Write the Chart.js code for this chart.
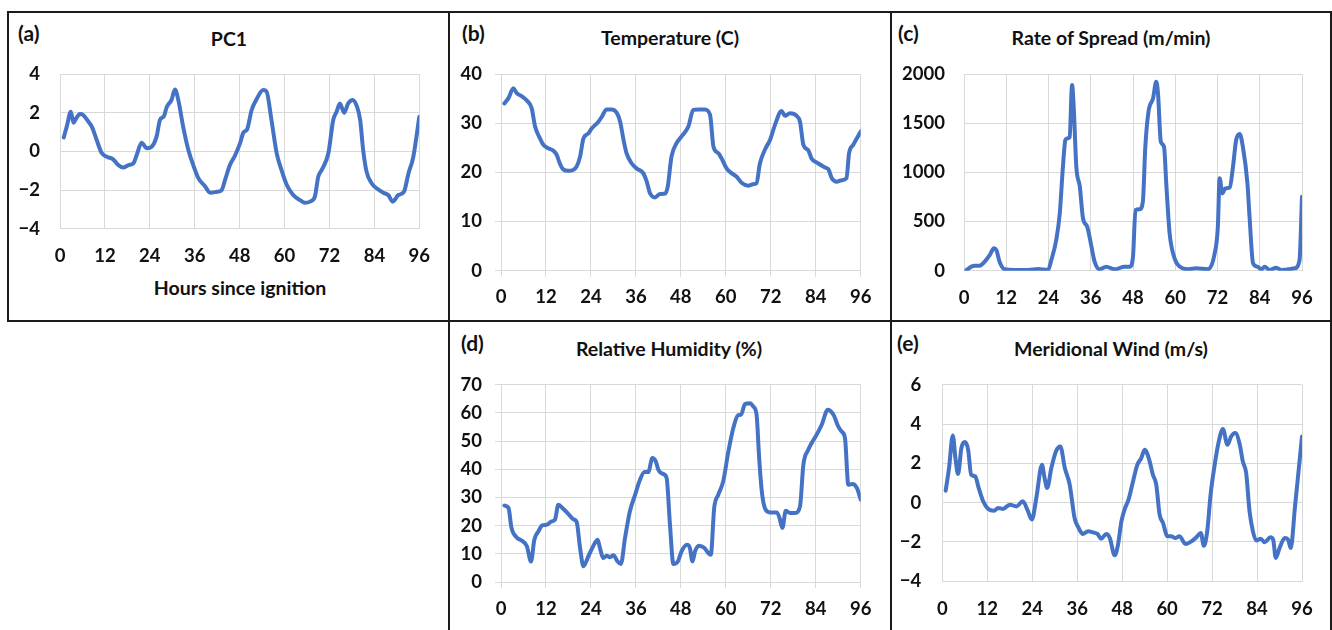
<!DOCTYPE html>
<html>
<head>
<meta charset="utf-8">
<script src="https://cdn.jsdelivr.net/npm/chart.js@4.4.1/dist/chart.umd.min.js"></script>
<style>
    html, body { margin: 0; padding: 0; background: #fff; }
    body { width: 1332px; height: 630px; position: relative; overflow: hidden; font-family: Lato, "Open Sans", sans-serif; color: #111; }
    .rule { position: absolute; background: #1b1b1b; }
    canvas { position: absolute; }
    .title { position: absolute; font-weight: bold; font-size: 19.5px; white-space: nowrap; transform: translate(-50%, -50%); }
    .tag { position: absolute; font-weight: bold; font-size: 21px; white-space: nowrap; transform: translateY(-50%); }
</style>
</head>
<body>
<!-- panel frames -->
<div class="rule" style="left:7px;top:11px;width:1325px;height:2px"></div>
<div class="rule" style="left:7px;top:320px;width:1325px;height:2px"></div>
<div class="rule" style="left:7px;top:11px;width:2px;height:311px"></div>
<div class="rule" style="left:448px;top:11px;width:2px;height:619px"></div>
<div class="rule" style="left:890px;top:11px;width:2px;height:619px"></div>
<div class="rule" style="left:1330px;top:11px;width:2px;height:619px"></div>

<div class="tag" style="left:18px;top:32px">(a)</div>
<div class="tag" style="left:462px;top:32px">(b)</div>
<div class="tag" style="left:898px;top:32px">(c)</div>
<div class="tag" style="left:461px;top:342px">(d)</div>
<div class="tag" style="left:897px;top:342px">(e)</div>

<div class="title" style="left:229px;top:38px">PC1</div>
<div class="title" style="left:670px;top:37px">Temperature (C)</div>
<div class="title" style="left:1111px;top:37px">Rate of Spread (m/min)</div>
<div class="title" style="left:669px;top:348px">Relative Humidity (%)</div>
<div class="title" style="left:1111px;top:348px">Meridional Wind (m/s)</div>
<div class="title" style="left:240px;top:287px">Hours since ignition</div>

<script>
// shared x ticks
const hourTicks = [0, 12, 24, 36, 48, 60, 72, 84, 96];

// (a) PC1
const hoursA = [1, 1.8, 2.9, 3.6, 4.3, 5.3, 6.2, 7.6, 8.5, 9.8, 11.1, 12.5, 14.2, 15.6, 16.9, 18.3, 19.6, 20.5, 21.8, 23.2,
    24.5, 25.8, 26.7, 27.8, 28.5, 29.8, 30.7, 31.6, 32.9, 34.3, 35.6, 37, 38.7, 40.1, 41.9, 43.2, 44.1, 45.4, 46.7, 48.1,
    49, 50, 51.2, 52.5, 54.3, 55.2, 56.5, 57.9, 59.2, 60.6, 62.3, 64.1, 65.5, 66.8, 68.1, 69, 69.9, 71.7, 73, 73.9,
    74.8, 75.9, 77, 78.2, 79.3, 80.2, 81, 81.9, 83.3, 84.6, 86.4, 87.7, 88.9, 90.4, 91.9, 93.1, 94.4, 96];
const pc1 = [0.72, 1.28, 2.05, 1.48, 1.7, 1.93, 1.88, 1.53, 1.28, 0.59, -0.07, -0.28, -0.41, -0.71, -0.83, -0.71, -0.62, -0.19, 0.45, 0.16,
    0.24, 0.76, 1.62, 1.83, 2.28, 2.66, 3.2, 2.66, 1.28, 0.07, -0.71, -1.4, -1.79, -2.14, -2.09, -2.0, -1.48, -0.71, -0.24, 0.41,
    0.97, 1.14, 2.14, 2.69, 3.17, 3.09, 1.62, -0.1, -0.97, -1.74, -2.26, -2.52, -2.66, -2.6, -2.34, -1.31, -0.97, -0.1, 1.62, 2.05,
    2.48, 2.0, 2.48, 2.66, 2.34, 1.62, 0.07, -1.05, -1.66, -1.91, -2.14, -2.26, -2.6, -2.26, -2.09, -1.14, -0.28, 1.79];
const pc1Ticks = [-4, -2, 0, 2, 4];

// (b) Temperature
const hoursB = [0.9, 2, 3.3, 4.2, 5.5, 6.9, 8.2, 9.1, 10.4, 11.3, 12.6, 14, 14.9, 15.7, 16.6, 18, 19.3, 20.2, 21.1, 22,
    23.3, 24.2, 26, 26.9, 28.2, 29.5, 30.9, 31.8, 32.7, 33.5, 34.9, 36.2, 38, 38.9, 39.8, 41.1, 42.4, 43.8, 44.5, 45.5,
    46.9, 48.2, 50, 51.3, 52.7, 54.4, 55.8, 56.7, 58, 58.9, 60.2, 61.6, 62.9, 64.2, 66, 67.3, 68.2, 69.1, 70.5, 71.8,
    73.1, 74.9, 75.8, 77.1, 78.9, 79.8, 80.7, 82, 82.9, 84.7, 86.5, 87.4, 88.3, 89.6, 90.9, 92.2, 92.9, 94, 96];
const temperature = [34.0, 35.1, 37.1, 36.1, 35.5, 34.6, 33.0, 29.3, 26.9, 25.6, 24.9, 24.4, 23.5, 21.8, 20.6, 20.3, 20.5, 21.2, 23.2, 26.9,
    27.9, 28.9, 30.3, 31.3, 32.8, 32.8, 32.1, 30.3, 26.6, 23.9, 21.8, 20.8, 19.8, 18.1, 15.7, 14.9, 15.6, 15.7, 17.1, 23.2,
    26.0, 27.3, 29.3, 32.7, 32.8, 32.8, 31.7, 25.2, 23.9, 22.8, 20.8, 19.8, 19.1, 17.9, 17.3, 17.6, 17.8, 21.8, 24.7, 26.6,
    29.6, 32.5, 31.5, 32.0, 31.5, 30.3, 25.6, 24.5, 22.8, 21.8, 21.0, 20.6, 18.8, 18.1, 18.4, 18.8, 23.9, 25.6, 28.3];
const tempTicks = [0, 10, 20, 30, 40];

// (c) Rate of spread
const hoursC = [0.7, 2.1, 3, 4.4, 5.9, 7.3, 8.5, 9.2, 10.1, 11.6, 14.4, 18.2, 21, 23.9, 24.8, 26.2, 27.2, 28.1, 28.8, 29.5,
    30, 30.7, 31.2, 31.9, 32.9, 33.8, 35, 36.2, 37.1, 38.5, 40.4, 42.8, 45.6, 47.1, 48, 48.7, 49.9, 50.8, 51.5, 52.4,
    53.7, 54.6, 55.1, 55.9, 56.8, 57.5, 58.4, 59.8, 61.3, 63.6, 66, 69.3, 71.2, 72.1, 72.6, 73.4, 74.2, 75.5, 76.4, 77.3,
    78.3, 79.2, 80.5, 81.1, 82.1, 83.3, 84.5, 85.4, 86.8, 88.7, 90.1, 93.9, 95.3, 96];
const spread = [7, 41, 51, 51, 92, 159, 227, 210, 92, 14, 7, 7, 17, 7, 108, 312, 583, 1058, 1329, 1346,
    1356, 1888, 1634, 1058, 854, 532, 447, 244, 92, 14, 41, 14, 41, 41, 142, 617, 624, 702, 1261, 1617,
    1753, 1922, 1803, 1312, 1261, 854, 380, 125, 41, 14, 24, 14, 176, 447, 939, 786, 837, 848, 1058, 1329,
    1390, 1261, 888, 549, 75, 41, 14, 41, 7, 31, 7, 24, 108, 753];
const spreadTicks = [0, 500, 1000, 1500, 2000];

// (d) Relative humidity
const hoursD = [0.9, 2, 2.8, 4.2, 5.5, 6.9, 8, 8.9, 10, 11, 12.2, 13.5, 14.4, 15.3, 16.6, 18, 19.3, 20.2, 21.1, 22,
    23.3, 24.6, 25.8, 26.4, 27.3, 28.2, 29.1, 30, 31.1, 32, 33.1, 34.4, 35.8, 37.1, 38.3, 39.3, 40.4, 41.3, 42, 43.3,
    44.2, 45.1, 46, 47.2, 48.2, 49.6, 50.4, 51.1, 51.8, 52.8, 54.3, 55.3, 56, 56.9, 58, 59.3, 60.7, 62, 63.2, 64.1,
    65.1, 66.5, 67.3, 68.2, 68.9, 69.6, 70.5, 71.8, 73.6, 74.3, 75.1, 76, 77.1, 78.5, 79.8, 80.7, 82, 82.9, 84, 85.6,
    87.2, 88.7, 90, 90.9, 91.8, 92.7, 93.8, 95, 96];
const humidity = [27.1, 26.3, 19.2, 15.8, 14.7, 12.7, 7.3, 15.0, 18.0, 20.1, 20.3, 21.5, 22.1, 27.4, 26.0, 24.1, 22.3, 21.3, 12.1, 5.6,
    9.1, 12.7, 15.0, 12.1, 8.5, 9.3, 8.8, 9.5, 7.3, 6.4, 15.6, 25.1, 31.0, 36.3, 39.0, 39.0, 44.0, 42.8, 39.8, 38.3,
    36.9, 20.3, 6.4, 7.3, 10.9, 13.2, 12.1, 7.3, 10.9, 12.9, 12.1, 10.3, 9.7, 26.3, 31.0, 35.7, 46.4, 54.6, 59.1, 59.4,
    63.1, 63.4, 62.3, 59.4, 44.0, 32.2, 26.0, 24.7, 24.7, 22.9, 19.2, 25.3, 24.5, 24.5, 26.8, 41.6, 46.9, 49.3, 51.7, 55.8,
    61.1, 59.4, 55.2, 53.4, 51.1, 34.5, 34.8, 33.3, 29.2];
const humidityTicks = [0, 10, 20, 30, 40, 50, 60, 70];

// (e) Meridional wind
const hoursE = [0.9, 1.8, 2.8, 3.5, 4.2, 5.1, 6, 6.9, 7.7, 8.8, 9.7, 10.9, 12.2, 13.8, 14.9, 16.2, 18, 19.8, 21.5, 22.7,
    23.9, 25.1, 26.6, 27.3, 28, 29.1, 30.4, 31.5, 32.7, 34, 35.3, 36.4, 37.5, 38.9, 40.2, 41.4, 42.4, 43.8, 44.7, 46,
    46.9, 47.8, 48.8, 49.7, 50.9, 52, 53.1, 54, 55.1, 56.2, 57.1, 58, 58.9, 60.1, 61.1, 62.2, 63.3, 64.9, 66.5, 67.8,
    69, 69.8, 70.7, 71.6, 72.7, 73.8, 74.9, 76.1, 77.1, 78.2, 79.4, 80.2, 81.1, 82, 82.9, 83.8, 85, 86, 87.6, 88.3,
    89, 90, 91.4, 92.3, 93, 94.1, 96];
const wind = [0.61, 1.76, 3.42, 2.27, 1.46, 2.78, 3.08, 2.69, 1.42, 1.34, 0.75, 0.07, -0.31, -0.41, -0.27, -0.32, -0.1, -0.19, 0.07, -0.36,
    -0.86, 0.24, 1.93, 1.25, 0.75, 1.76, 2.64, 2.86, 1.76, 0.92, -0.78, -1.29, -1.59, -1.46, -1.51, -1.59, -1.83, -1.59, -1.8, -2.68,
    -2.14, -0.95, -0.27, 0.15, 1.08, 1.9, 2.27, 2.69, 2.27, 1.42, 0.92, -0.61, -1.03, -1.71, -1.71, -1.8, -1.71, -2.1, -1.97, -1.76,
    -1.54, -2.19, -1.46, 0.41, 1.93, 3.12, 3.75, 2.95, 3.37, 3.54, 2.95, 2.1, 1.51, -0.44, -1.46, -1.93, -1.83, -2.02, -1.76, -1.88,
    -2.81, -2.31, -1.8, -1.88, -2.31, -0.27, 3.37];
const windTicks = [-4, -2, 0, 2, 4, 6];

Chart.defaults.font.family = 'Lato, "Open Sans", sans-serif';
Chart.defaults.font.weight = 'bold';
Chart.defaults.font.size = 18.5;
Chart.defaults.color = '#111';

const gridColor = '#d9d9d9';
const lineColor = '#4472C4';

// box = canvas [left, top, width, height]; plot = chart area [left, top, right, bottom] (page px)
const panels = [
    { box: [9, 13, 439, 307], plot: [60, 74, 419.3, 228.7], xs: hoursA, ys: pc1, yTicks: pc1Ticks, marks: false, yPad: 20, xPad: 16 },
    { box: [450, 13, 440, 307], plot: [501, 74, 860.7, 270.7], xs: hoursB, ys: temperature, yTicks: tempTicks, marks: true, yPad: 13, xPad: 9.7 },
    { box: [892, 13, 438, 307], plot: [964, 74, 1302, 270.7], xs: hoursC, ys: spread, yTicks: spreadTicks, marks: false, yPad: 19, xPad: 16 },
    { box: [450, 322, 440, 308], plot: [501, 384.7, 860.7, 582], xs: hoursD, ys: humidity, yTicks: humidityTicks, marks: true, yPad: 13, xPad: 10.4 },
    { box: [892, 322, 438, 308], plot: [942.3, 384.7, 1302, 581.3], xs: hoursE, ys: wind, yTicks: windTicks, marks: false, yPad: 21, xPad: 17 }
];

function fmt(v) {
    return v < 0 ? '\u2212' + Math.abs(v) : String(v);
}

panels.forEach(function(p) {
    const [bl, bt, bw, bh] = p.box;
    const [pl, pt, pr, pb] = p.plot;
    const cv = document.createElement('canvas');
    cv.width = bw;
    cv.height = bh;
    cv.style.left = bl + 'px';
    cv.style.top = bt + 'px';
    cv.style.width = bw + 'px';
    cv.style.height = bh + 'px';
    document.body.appendChild(cv);

    const yMin = p.yTicks[0];
    const yMax = p.yTicks[p.yTicks.length - 1];

    new Chart(cv.getContext('2d'), {
        type: 'line',
        data: {
            datasets: [{
                data: p.xs.map((h, i) => ({ x: h, y: p.ys[i] })),
                borderColor: lineColor,
                borderWidth: 4,
                pointRadius: 0,
                cubicInterpolationMode: 'monotone',
                borderCapStyle: 'round',
                borderJoinStyle: 'round',
                fill: false
            }]
        },
        options: {
            responsive: false,
            animation: false,
            events: [],
            layout: { padding: { left: 0, top: pt - bt, right: bl + bw - pr, bottom: 0 } },
            plugins: { legend: { display: false }, tooltip: { enabled: false } },
            scales: {
                x: {
                    type: 'linear',
                    min: 0,
                    max: 96,
                    afterBuildTicks: s => { s.ticks = hourTicks.map(v => ({ value: v })); },
                    afterFit: s => { s.height = bt + bh - pb; },
                    grid: { color: gridColor, lineWidth: 1, drawTicks: p.marks, tickLength: 6, tickColor: gridColor },
                    border: { color: gridColor },
                    ticks: { padding: p.xPad, maxRotation: 0, autoSkip: false, callback: fmt }
                },
                y: {
                    min: yMin,
                    max: yMax,
                    afterBuildTicks: s => { s.ticks = p.yTicks.map(v => ({ value: v })); },
                    afterFit: s => { s.width = pl - bl; },
                    grid: { color: gridColor, lineWidth: 1, drawTicks: p.marks, tickLength: 6, tickColor: gridColor },
                    border: { color: gridColor },
                    ticks: { padding: p.yPad, autoSkip: false, callback: fmt }
                }
            }
        }
    });
});
</script>
</body>
</html>
